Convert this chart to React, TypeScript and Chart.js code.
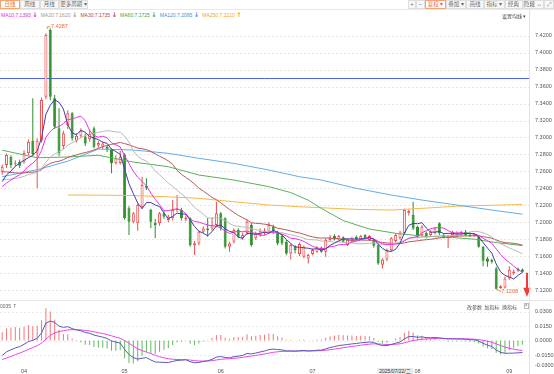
import React, { useEffect, useRef } from "react";
import { Chart, registerables } from "chart.js";

Chart.register(...registerables);

// ---------- data ----------
const priorCloses = [
  7.285, 7.29, 7.282, 7.278, 7.275, 7.27, 7.276, 7.28, 7.275, 7.276,
  7.268, 7.262, 7.255, 7.25, 7.248, 7.252, 7.26, 7.262, 7.258, 7.265,
  7.238, 7.232, 7.235, 7.24, 7.236, 7.24, 7.245, 7.242, 7.2475,
];

const opens = [
  7.2596, 7.2675, 7.2773, 7.269, 7.2714, 7.2714, 7.2813, 7.296, 7.281, 7.2963,
  7.348, 7.4267, 7.3462, 7.3108, 7.29, 7.3147, 7.3285, 7.2962, 7.302, 7.301,
  7.298, 7.311, 7.2905, 7.289, 7.289, 7.2852, 7.2695, 7.27, 7.28, 7.2164,
  7.2006, 7.1987, 7.2183, 7.2431, 7.2144, 7.1994, 7.1987, 7.2105, 7.2026, 7.2046,
  7.2144, 7.2144, 7.2034, 7.2046, 7.1725, 7.175, 7.1888, 7.1927, 7.1927, 7.1967,
  7.2105, 7.2046, 7.1712, 7.177, 7.1908, 7.181, 7.1869, 7.1967, 7.181, 7.185,
  7.187, 7.1888, 7.1947, 7.1888, 7.184, 7.177, 7.1633, 7.1719, 7.1625, 7.1593,
  7.1574, 7.1625, 7.1652, 7.1703, 7.1652, 7.179, 7.1837, 7.1798, 7.1822, 7.1731,
  7.177, 7.1829, 7.1798, 7.1849, 7.179, 7.179, 7.173, 7.15, 7.156, 7.167,
  7.178, 7.181, 7.1869, 7.2105, 7.2085, 7.1947, 7.185, 7.1875, 7.1849, 7.1869,
  7.1987, 7.1849, 7.181, 7.1849, 7.1837, 7.1849, 7.1888, 7.1849, 7.184, 7.1826,
  7.1711, 7.1574, 7.1554, 7.1456, 7.1222, 7.123, 7.1338, 7.14, 7.1456, 7.1444,
];
const highs = [
  7.268, 7.281, 7.279, 7.273, 7.274, 7.285, 7.2975, 7.3462, 7.299, 7.347,
  7.4228, 7.4287, 7.35, 7.3344, 7.308, 7.332, 7.33, 7.305, 7.311, 7.305,
  7.31, 7.313, 7.296, 7.295, 7.291, 7.287, 7.279, 7.284, 7.2815, 7.219,
  7.212, 7.222, 7.2537, 7.2518, 7.216, 7.204, 7.212, 7.213, 7.209, 7.2262,
  7.232, 7.217, 7.208, 7.206, 7.178, 7.19, 7.195, 7.205, 7.206, 7.2242,
  7.212, 7.206, 7.177, 7.193, 7.193, 7.188, 7.203, 7.199, 7.189, 7.193,
  7.193, 7.2, 7.197, 7.19, 7.186, 7.179, 7.175, 7.173, 7.176, 7.173,
  7.163, 7.169, 7.172, 7.1715, 7.181, 7.185, 7.186, 7.185, 7.1835, 7.181,
  7.183, 7.1845, 7.185, 7.186, 7.185, 7.18, 7.1745, 7.1575, 7.169, 7.1825,
  7.187, 7.19, 7.216, 7.215, 7.2242, 7.196, 7.1967, 7.189, 7.1905, 7.1945,
  7.2, 7.1865, 7.185, 7.19, 7.1895, 7.19, 7.191, 7.188, 7.187, 7.1835,
  7.172, 7.1593, 7.157, 7.1475, 7.126, 7.1357, 7.148, 7.144, 7.1465, 7.1455,
];
const lows = [
  7.256, 7.264, 7.264, 7.266, 7.264, 7.269, 7.279, 7.278, 7.24, 7.294,
  7.345, 7.344, 7.31, 7.278, 7.286, 7.31, 7.296, 7.294, 7.299, 7.29,
  7.295, 7.287, 7.288, 7.286, 7.283, 7.2577, 7.268, 7.268, 7.203, 7.1849,
  7.1987, 7.19, 7.216, 7.238, 7.1928, 7.181, 7.196, 7.204, 7.2, 7.202,
  7.212, 7.202, 7.201, 7.171, 7.1613, 7.173, 7.187, 7.183, 7.19, 7.194,
  7.19, 7.169, 7.1652, 7.175, 7.181, 7.179, 7.185, 7.171, 7.179, 7.183,
  7.185, 7.187, 7.186, 7.173, 7.173, 7.161, 7.156, 7.1633, 7.16, 7.1575,
  7.1515, 7.161, 7.164, 7.164, 7.1593, 7.1775, 7.1785, 7.1785, 7.1755, 7.172,
  7.176, 7.1785, 7.179, 7.1805, 7.178, 7.17, 7.15, 7.1456, 7.154, 7.1655,
  7.1765, 7.1795, 7.185, 7.208, 7.191, 7.181, 7.183, 7.181, 7.1835, 7.1855,
  7.185, 7.181, 7.1696, 7.1835, 7.1825, 7.1835, 7.1835, 7.1825, 7.183, 7.17,
  7.148, 7.1475, 7.1515, 7.1208, 7.1215, 7.1218, 7.132, 7.138, 7.1415, 7.1405,
];
const closes = [
  7.2655, 7.2793, 7.2675, 7.27, 7.2667, 7.2816, 7.295, 7.2806, 7.296, 7.3442,
  7.4208, 7.348, 7.3127, 7.2813, 7.305, 7.3285, 7.299, 7.3021, 7.308, 7.293,
  7.304, 7.289, 7.2935, 7.293, 7.2855, 7.2695, 7.2754, 7.2773, 7.205, 7.2006,
  7.2105, 7.2203, 7.2439, 7.2407, 7.2006, 7.1967, 7.2105, 7.2065, 7.2065, 7.2144,
  7.2164, 7.2046, 7.2057, 7.173, 7.1753, 7.1888, 7.1927, 7.1908, 7.1967, 7.2105,
  7.1927, 7.1712, 7.175, 7.1908, 7.183, 7.185, 7.2006, 7.173, 7.1869, 7.19,
  7.19, 7.1967, 7.1888, 7.175, 7.175, 7.1633, 7.1731, 7.1672, 7.1743, 7.1711,
  7.1613, 7.1672, 7.1703, 7.1652, 7.179, 7.1822, 7.1798, 7.1837, 7.177, 7.1798,
  7.181, 7.1798, 7.1837, 7.1818, 7.1837, 7.1722, 7.1515, 7.156, 7.1672, 7.181,
  7.1849, 7.188, 7.2144, 7.2132, 7.1927, 7.1829, 7.1947, 7.1829, 7.1888, 7.1927,
  7.1869, 7.1822, 7.184, 7.1888, 7.188, 7.1888, 7.1849, 7.1837, 7.1855, 7.1711,
  7.1545, 7.1535, 7.1534, 7.1215, 7.1245, 7.1338, 7.144, 7.142, 7.1428, 7.1416,
];

// long averages at sample candles: [candle index, value]
const ma60Points: [number, number][] = [
  [0, 7.285], [8, 7.276], [15, 7.277], [22, 7.279], [30, 7.271], [38, 7.2655],
  [45, 7.2557], [53, 7.2498], [61, 7.242], [66, 7.235], [70, 7.226], [73, 7.2164],
  [78, 7.202], [84, 7.192], [90, 7.187], [96, 7.1837], [103, 7.182], [108, 7.18],
  [113, 7.176], [119, 7.1725],
];
const ma120Points: [number, number][] = [
  [0, 7.2537], [8, 7.262], [15, 7.272], [22, 7.2863], [30, 7.2852], [38, 7.2813],
  [45, 7.2754], [53, 7.2694], [61, 7.2616], [68, 7.2537], [73, 7.2498], [81, 7.24],
  [89, 7.2321], [96, 7.2262], [104, 7.2203], [112, 7.2144], [119, 7.2095],
];
const ma250Points: [number, number][] = [
  [15, 7.2321], [22, 7.232], [30, 7.2315], [38, 7.23], [45, 7.2282], [53, 7.2242],
  [61, 7.2203], [68, 7.2183], [81, 7.2152], [89, 7.2144], [96, 7.2164], [104, 7.219],
  [119, 7.221],
];

const macdSeedEma12 = 7.2435;
const macdSeedEma26 = 7.262;
const macdSeedDea = -0.0207;

const drawnLinePrice = 7.37;

const priceTicks = [
  7.12, 7.14, 7.16, 7.18, 7.2, 7.22, 7.24, 7.26, 7.28, 7.3, 7.32, 7.34, 7.36,
  7.38, 7.4, 7.42,
];
const macdTicks = [0.03, 0.015, 0, -0.015, -0.03];
const monthTickIndex = [5, 28, 50, 71, 95, 116];
const monthTickLabel = ["04", "05", "06", "07", "08", "09"];

const legendNames = ["MA10", "MA20", "MA30", "MA60", "MA120", "MA250"];
const legendValues = ["7.1393", "7.1620", "7.1735", "7.1725", "7.2095", "7.2210"];
const legendArrows = ["↓", "↓", "↓", "↓", "↓", "↑"];
const crosshairDate = "2025/07/22/二";

// ---------- styles ----------
const FONT = "'Liberation Sans', Arial, 'Noto Sans CJK SC', sans-serif";
const CFONT = "'Liberation Sans', Arial, sans-serif";
const RED = "#f04c4c";
const GREEN = "#2f8f2f";
const legendColors = ["#e326e3", "#9a9a9a", "#b84444", "#3f9f3f", "#3f90d8", "#f0a428"];
const lineColors = {
  ma5: "#3d3da6",
  ma10: "#ee30ee",
  ma20: "#b9b9b9",
  ma30: "#b85858",
  ma60: "#5bb05b",
  ma120: "#62ace8",
  ma250: "#f6b84a",
};

// ---------- derived series ----------
const N = closes.length;
const labels = [...closes.map((_, i) => String(i)), ""];

function movingAverage(n: number): number[] {
  const all = [...priorCloses, ...closes];
  const p = priorCloses.length;
  return closes.map((_, i) => {
    let s = 0;
    for (let k = 0; k < n; k++) s += all[p + i - k];
    return s / n;
  });
}

function sparse(points: [number, number][]): (number | null)[] {
  const arr: (number | null)[] = new Array(N).fill(null);
  points.forEach(([i, v]) => {
    arr[i] = v;
  });
  return arr;
}

function macdSeries() {
  let e12 = macdSeedEma12;
  let e26 = macdSeedEma26;
  let dea = macdSeedDea;
  const dif: number[] = [];
  const deaArr: number[] = [];
  const hist: number[] = [];
  closes.forEach((c) => {
    e12 += ((c - e12) * 2) / 13;
    e26 += ((c - e26) * 2) / 27;
    const d = e12 - e26;
    dea += ((d - dea) * 2) / 10;
    dif.push(d);
    deaArr.push(dea);
    hist.push(2 * (d - dea));
  });
  return { dif, dea: deaArr, hist };
}

const lineDs = (label: string, data: (number | null)[], color: string, extra: any = {}) => ({
  type: "line" as const,
  label,
  data,
  borderColor: color,
  borderWidth: 1,
  pointRadius: 0,
  tension: 0,
  fill: false,
  order: 0,
  ...extra,
});

function mainConfig(): any {
  const up = closes.map((c, i) => c >= opens[i]);
  const mainPlugin = {
    id: "mainDeco",
    beforeDatasetsDraw(chart: any) {
      const { ctx, chartArea: a, scales } = chart;
      const y = scales.y;
      ctx.save();
      ctx.strokeStyle = "#e6e6e6";
      ctx.lineWidth = 1;
      ctx.setLineDash([2, 2]);
      priceTicks.forEach((v) => {
        const py = Math.round(y.getPixelForValue(v)) + 0.5;
        ctx.beginPath();
        ctx.moveTo(a.left, py);
        ctx.lineTo(a.right, py);
        ctx.stroke();
      });
      ctx.setLineDash([]);
      ctx.strokeStyle = "#5062f0";
      const ly = Math.round(y.getPixelForValue(drawnLinePrice)) + 0.5;
      ctx.beginPath();
      ctx.moveTo(a.left, ly);
      ctx.lineTo(a.right, ly);
      ctx.stroke();
      ctx.restore();
    },
    afterDatasetsDraw(chart: any) {
      const { ctx, chartArea: a, scales } = chart;
      const x = scales.x;
      const y = scales.y;
      let hi = 0;
      let lo = 0;
      highs.forEach((h, i) => {
        if (h > highs[hi]) hi = i;
      });
      lows.forEach((l, i) => {
        if (l < lows[lo]) lo = i;
      });
      ctx.save();
      ctx.font = `5.5px ${CFONT}`;
      ctx.fillStyle = "#ee6a2e";
      ctx.strokeStyle = "#ee6a2e";
      ctx.lineWidth = 0.8;
      ctx.textAlign = "left";
      ctx.textBaseline = "middle";
      // highest point marker
      const hx = x.getPixelForValue(hi);
      const hy = y.getPixelForValue(highs[hi]);
      ctx.beginPath();
      ctx.moveTo(hx - 3, hy + 0.5);
      ctx.lineTo(hx - 3, hy - 1.5);
      ctx.lineTo(hx, hy - 1.5);
      ctx.stroke();
      ctx.fillText(highs[hi].toFixed(4), hx + 0.8, hy - 1.8);
      // lowest point marker
      const lx = x.getPixelForValue(lo);
      const ly = y.getPixelForValue(lows[lo]);
      ctx.beginPath();
      ctx.moveTo(lx + 0.5, ly);
      ctx.lineTo(lx + 4.5, ly + 2);
      ctx.stroke();
      ctx.fillText(lows[lo].toFixed(4), lx + 5, ly + 2.5);
      // latest-price arrow
      const ax = a.right - 2;
      const ay = y.getPixelForValue(closes[N - 1]);
      ctx.fillStyle = "#f23a3a";
      ctx.fillRect(ax - 1, ay + 1, 2, 16);
      ctx.beginPath();
      ctx.moveTo(ax - 3.8, ay + 16);
      ctx.lineTo(ax + 3.8, ay + 16);
      ctx.lineTo(ax, ay + 25);
      ctx.closePath();
      ctx.fill();
      ctx.restore();
    },
    afterDraw(chart: any) {
      const { ctx, chartArea: a, scales } = chart;
      const y = scales.y;
      ctx.save();
      ctx.font = `5.5px ${CFONT}`;
      ctx.fillStyle = "#555";
      ctx.textAlign = "left";
      ctx.textBaseline = "middle";
      priceTicks.forEach((v) => {
        ctx.fillText(v.toFixed(4), a.right + 6, y.getPixelForValue(v));
      });
      ctx.restore();
    },
  };

  return {
    type: "bar",
    data: {
      labels,
      datasets: [
        lineDs("MA5", movingAverage(5), lineColors.ma5),
        lineDs("MA10", movingAverage(10), lineColors.ma10),
        lineDs("MA20", movingAverage(20), lineColors.ma20),
        lineDs("MA30", movingAverage(30), lineColors.ma30),
        lineDs("MA60", sparse(ma60Points), lineColors.ma60, { spanGaps: true }),
        lineDs("MA120", sparse(ma120Points), lineColors.ma120, { spanGaps: true }),
        lineDs("MA250", sparse(ma250Points), lineColors.ma250, { spanGaps: true }),
        {
          type: "bar",
          label: "body",
          data: opens.map((o, i) => [o, closes[i]]),
          backgroundColor: up.map((u) => (u ? "#ffffff" : GREEN)),
          borderColor: up.map((u) => (u ? RED : GREEN)),
          borderWidth: 1,
          borderSkipped: false,
          barThickness: 3,
          minBarLength: 1,
          grouped: false,
          inflateAmount: 0,
          order: 1,
        },
        {
          type: "bar",
          label: "wick",
          data: lows.map((l, i) => [l, highs[i]]),
          backgroundColor: up.map((u) => (u ? RED : GREEN)),
          borderWidth: 0,
          barThickness: 1,
          grouped: false,
          inflateAmount: 0,
          order: 2,
        },
      ],
    },
    options: {
      animation: false,
      responsive: false,
      events: [],
      layout: { autoPadding: false, padding: { left: 0, right: 25, top: 2, bottom: 2 } },
      plugins: { legend: { display: false }, tooltip: { enabled: false } },
      scales: {
        x: { type: "category", display: false, offset: true, grid: { display: false } },
        y: { type: "linear", display: false, min: 7.11068, max: 7.43616 },
      },
    },
    plugins: [mainPlugin],
  };
}

function macdConfig(): any {
  const m = macdSeries();
  const yMin = -0.02731;
  const yMax = 0.033724;
  const macdPlugin = {
    id: "macdDeco",
    beforeDatasetsDraw(chart: any) {
      const { ctx, chartArea: a, scales } = chart;
      const y = scales.y;
      ctx.save();
      ctx.strokeStyle = "#ececec";
      ctx.lineWidth = 1;
      ctx.setLineDash([2, 2]);
      macdTicks.forEach((v) => {
        if (v < yMin || v > yMax) return;
        const py = Math.round(y.getPixelForValue(v)) + 0.5;
        ctx.beginPath();
        ctx.moveTo(a.left, py);
        ctx.lineTo(a.right, py);
        ctx.stroke();
      });
      ctx.restore();
    },
    afterDraw(chart: any) {
      const { ctx, chartArea: a, scales } = chart;
      const x = scales.x;
      const y = scales.y;
      ctx.save();
      ctx.font = `5.5px ${CFONT}`;
      ctx.fillStyle = "#555";
      ctx.textAlign = "left";
      ctx.textBaseline = "middle";
      macdTicks.forEach((v) => {
        let py = y.getPixelForValue(v);
        py = Math.min(Math.max(py, a.top + 3), a.bottom - 1.6);
        ctx.fillText(v.toFixed(4), a.right + 6, py);
      });
      ctx.textAlign = "center";
      monthTickIndex.forEach((idx, k) => {
        ctx.fillText(monthTickLabel[k], x.getPixelForValue(idx), 71.5);
      });
      ctx.restore();
    },
  };
  return {
    type: "bar",
    data: {
      labels,
      datasets: [
        lineDs("DIF", m.dif, "#5a5ab4"),
        lineDs("DEA", m.dea, "#ee44ee"),
        {
          type: "bar",
          label: "MACD",
          data: m.hist,
          backgroundColor: m.hist.map((v) => (v >= 0 ? "#f07878" : "#62b862")),
          borderWidth: 0,
          barThickness: 1,
          grouped: false,
          inflateAmount: 0,
          order: 1,
        },
      ],
    },
    options: {
      animation: false,
      responsive: false,
      events: [],
      layout: { autoPadding: false, padding: { left: 0, right: 25, top: 8, bottom: 7 } },
      plugins: { legend: { display: false }, tooltip: { enabled: false } },
      scales: {
        x: { type: "category", display: false, offset: true, grid: { display: false } },
        y: { type: "linear", display: false, min: yMin, max: yMax },
      },
    },
    plugins: [macdPlugin],
  };
}

// ---------- UI pieces ----------
const toolLeft = [
  { text: "日线", left: 0, width: 20, active: true },
  { text: "周线", left: 20, width: 19.5, active: false },
  { text: "月线", left: 39.5, width: 19.5, active: false },
  { text: "更多周期 ▾", left: 59, width: 29, active: false },
];
const toolRight = [
  { text: "+", left: 407.5, width: 8.5, active: false },
  { text: "−", left: 416, width: 8.5, active: false },
  { text: "复权 ▾", left: 425, width: 21, active: true },
  { text: "叠加 ▾", left: 446, width: 20, active: false },
  { text: "画线", left: 466, width: 18, active: false },
  { text: "指标 ▾", left: 484, width: 20.5, active: false },
  { text: "经典", left: 504.5, width: 18, active: false },
  { text: "隐藏 ↔", left: 522.5, width: 21, active: false },
  { text: "⤢", left: 543.5, width: 10.5, active: false },
];

function ToolBtn({ text, left, width, active }: { text: string; left: number; width: number; active: boolean }) {
  return (
    <div
      style={{
        position: "absolute",
        left,
        top: 0,
        width,
        height: 8.5,
        boxSizing: "border-box",
        border: `1px solid ${active ? "#f4a474" : "#dedede"}`,
        background: active ? "#ffffff" : "#f7f7f7",
        color: active ? "#f0661e" : "#6a6a6a",
        fontSize: 5.5,
        lineHeight: "6.5px",
        textAlign: "center",
        whiteSpace: "nowrap",
        overflow: "hidden",
      }}
    >
      {text}
    </div>
  );
}

const abs = (s: React.CSSProperties): React.CSSProperties => ({ position: "absolute", ...s });
const ARROW_FONT = "'DejaVu Sans', 'Noto Sans', sans-serif";

export default function App() {
  const mainRef = useRef<HTMLCanvasElement>(null);
  const macdRef = useRef<HTMLCanvasElement>(null);

  useEffect(() => {
    const c1 = new Chart(mainRef.current as HTMLCanvasElement, mainConfig());
    const c2 = new Chart(macdRef.current as HTMLCanvasElement, macdConfig());
    return () => {
      c1.destroy();
      c2.destroy();
    };
  }, []);

  return (
    <div
      style={{
        position: "fixed",
        left: 0,
        top: 0,
        width: 554,
        height: 374,
        background: "#ffffff",
        overflow: "hidden",
        fontFamily: FONT,
      }}
    >
      <canvas ref={mainRef} width={554} height={280} style={abs({ left: 0, top: 20, width: 554, height: 280 })} />
      <canvas ref={macdRef} width={554} height={74} style={abs({ left: 0, top: 300, width: 554, height: 74 })} />

      {/* frame lines */}
      <div style={abs({ left: 0, top: 8.5, width: 554, height: 1, background: "#e8e8e8" })} />
      <div style={abs({ left: 529, top: 9, width: 1, height: 365, background: "#e2e2e2" })} />
      <div style={abs({ left: 0, top: 300, width: 554, height: 1, background: "#e6e6e6" })} />

      {/* toolbar */}
      {toolLeft.map((b) => (
        <ToolBtn key={b.text} {...b} />
      ))}
      {toolRight.map((b) => (
        <ToolBtn key={b.text} {...b} />
      ))}

      {/* MA legend */}
      <div style={abs({ left: 1, top: 10.5, height: 8, display: "flex", alignItems: "center", whiteSpace: "nowrap" })}>
        {legendNames.map((n, i) => (
          <span key={n} style={{ color: legendColors[i], fontSize: 5, marginRight: 3, display: "flex", alignItems: "center" }}>
            <span>{`${n}:${legendValues[i]}`}</span>
            <span style={{ fontSize: 6.5, fontWeight: "bold", fontFamily: ARROW_FONT, marginLeft: 1.5, lineHeight: "8px" }}>
              {legendArrows[i]}
            </span>
          </span>
        ))}
      </div>
      <div style={abs({ left: 502, top: 11.5, fontSize: 5, color: "#444", whiteSpace: "nowrap" })}>设置均线 ▾</div>

      {/* MACD header */}
      <div style={abs({ left: 0, top: 303, fontSize: 5, color: "#666", whiteSpace: "nowrap" })}>
        0035 <span style={{ fontFamily: ARROW_FONT, fontSize: 5.5 }}>↑</span>
      </div>
      <div style={abs({ left: 467, top: 303, fontSize: 5, color: "#555", whiteSpace: "nowrap" })}>改参数</div>
      <div style={abs({ left: 484.5, top: 303, fontSize: 5, color: "#555", whiteSpace: "nowrap" })}>加指标</div>
      <div style={abs({ left: 502, top: 303, fontSize: 5, color: "#555", whiteSpace: "nowrap" })}>换指标</div>
      <div
        style={abs({
          left: 523.5,
          top: 303,
          width: 5.5,
          height: 5.5,
          boxSizing: "border-box",
          border: "1px solid #bbb",
          fontSize: 4.5,
          lineHeight: "3.5px",
          textAlign: "center",
          color: "#777",
        })}
      >
        ×
      </div>

      {/* crosshair date box */}
      <div
        style={abs({
          left: 377,
          top: 368,
          width: 36,
          height: 6,
          background: "#e9e9e9",
          fontSize: 5,
          lineHeight: "6px",
          textAlign: "center",
          color: "#333",
          whiteSpace: "nowrap",
        })}
      >
        {crosshairDate}
      </div>
    </div>
  );
}
